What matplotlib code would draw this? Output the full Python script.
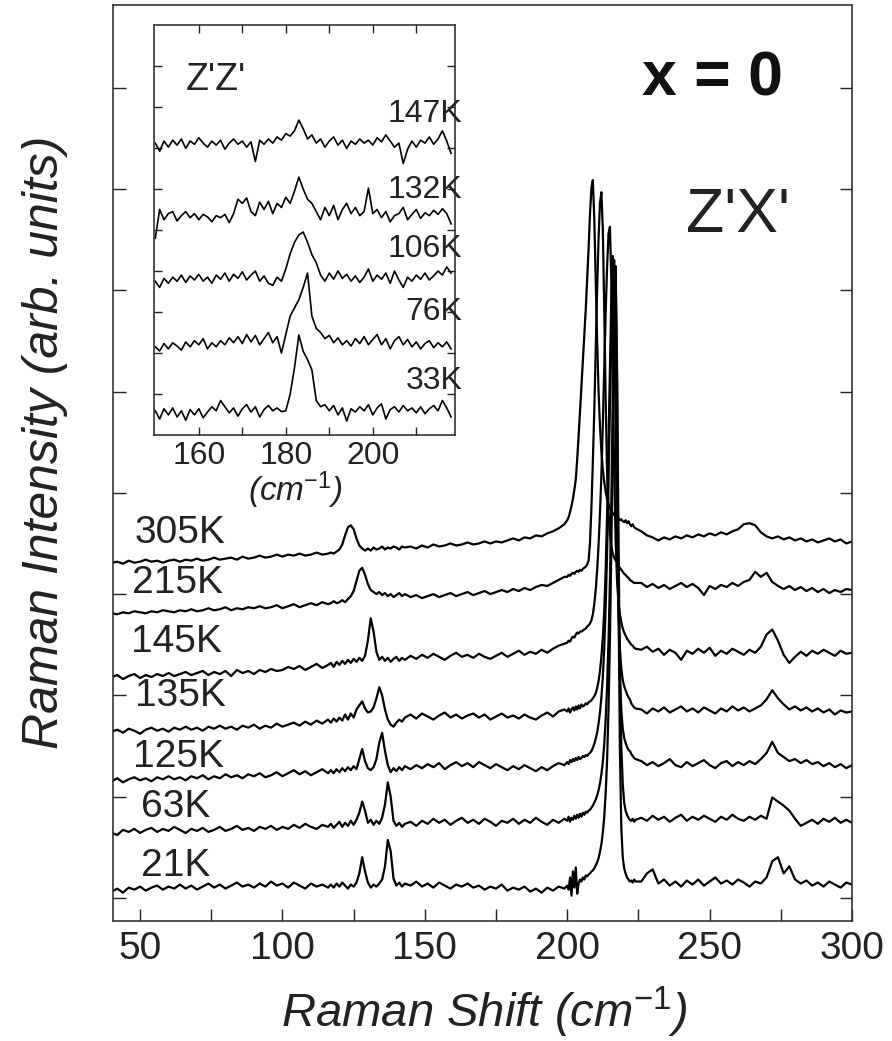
import numpy as np
import matplotlib
matplotlib.use('Agg')
from matplotlib import pyplot as plt
from matplotlib.ticker import MultipleLocator, FixedLocator

plt.rcParams['font.family'] = ['Liberation Sans', 'DejaVu Sans']
plt.rcParams['mathtext.fontset'] = 'custom'
plt.rcParams['mathtext.rm'] = 'Liberation Sans'
plt.rcParams['mathtext.it'] = 'Liberation Sans:italic'

# Raman shift sample positions (cm-1), finer around the phonon peaks
shift = np.concatenate([np.arange(40, 117, 2), np.arange(117, 144, 1),
                        np.arange(145, 200, 2), np.arange(200, 224.5, 0.5),
                        np.arange(226, 301, 2)])

# z'x' spectra, intensity above each curve's offset (arb. units)
zx_21K = [0.00, 0.03, -0.01, 0.04, 0.02, 0.05, 0.01, 0.04, 0.06, 0.02, 0.05, 0.03, 0.07, 0.03, 0.06, 0.02, 0.05, 0.08, 0.04, 0.07,
          0.03, 0.06, 0.09, 0.05, 0.07, 0.04, 0.08, 0.05, 0.10, 0.06, 0.08, 0.04, 0.09, 0.06, 0.03, 0.08, 0.05, 0.07, 0.04,
          0.07, 0.04, 0.08, 0.05, 0.09, 0.06, 0.03, 0.07, 0.05, 0.09, 0.18, 0.34, 0.20, 0.09, 0.04, 0.07, 0.05, 0.08, 0.12, 0.25,
          0.51, 0.40, 0.13, 0.06, 0.09, 0.05, 0.08,
          0.06, 0.10, 0.05, 0.08, 0.04, 0.09, 0.06, 0.03, 0.07, 0.05, 0.08, 0.04, 0.06, 0.02, 0.05, 0.03, 0.07, 0.01, 0.04, 0.02,
          0.05, 0.00, 0.03, -0.01, 0.04, 0.01, 0.05, 0.03,
          0.06, 0.02, 0.14, -0.04, 0.20, 0.04, 0.24, -0.02, 0.08, 0.12, 0.10, 0.14, 0.12, 0.16, 0.15, 0.17, 0.18, 0.20, 0.21, 0.23,
          0.26, 0.29, 0.33, 0.39, 0.47, 0.58, 0.74, 0.97, 1.30, 1.80, 2.50, 3.40, 4.50, 5.60, 6.14, 5.00, 2.90, 1.40, 0.62, 0.34,
          0.23, 0.18, 0.14, 0.12, 0.10, 0.11, 0.09, 0.12, 0.10,
          0.10, 0.18, 0.22, 0.08, 0.12, 0.06, 0.10, 0.05, 0.11, 0.07, 0.12, 0.06, 0.10, 0.14, 0.08, 0.11, 0.07, 0.12, 0.09, 0.05,
          0.10, 0.08, 0.14, 0.30, 0.34, 0.18, 0.25, 0.12, 0.08, 0.11, 0.06, 0.09, 0.05, 0.10, 0.07, 0.04, 0.09, 0.07]

zx_63K = [0.00, -0.02, 0.03, 0.01, 0.04, 0.00, 0.03, 0.05, 0.01, 0.04, 0.02, 0.06, 0.03, 0.00, 0.04, 0.02, 0.05, 0.01, 0.03, 0.06,
          0.02, 0.04, 0.07, 0.03, 0.05, 0.02, 0.06, 0.04, 0.07, 0.03, 0.06, 0.04, 0.08, 0.05, 0.09, 0.06, 0.04, 0.08, 0.06,
          0.09, 0.05, 0.08, 0.11, 0.06, 0.10, 0.07, 0.12, 0.08, 0.13, 0.20, 0.31, 0.22, 0.10, 0.13, 0.08, 0.12, 0.09, 0.15, 0.28,
          0.50, 0.36, 0.12, 0.07, 0.10, 0.06, 0.09,
          0.11, 0.07, 0.12, 0.09, 0.14, 0.10, 0.13, 0.08, 0.12, 0.15, 0.10, 0.13, 0.09, 0.14, 0.11, 0.07, 0.12, 0.10, 0.14, 0.09,
          0.13, 0.10, 0.15, 0.11, 0.08, 0.13, 0.10, 0.14,
          0.12, 0.16, 0.11, 0.15, 0.13, 0.17, 0.14, 0.18, 0.15, 0.19, 0.16, 0.20, 0.18, 0.21, 0.20, 0.22, 0.23, 0.25, 0.27, 0.30,
          0.33, 0.37, 0.42, 0.49, 0.58, 0.70, 0.88, 1.12, 1.45, 1.90, 2.50, 3.30, 4.30, 5.20, 5.60, 4.60, 2.90, 1.60, 0.85, 0.48,
          0.30, 0.22, 0.18, 0.15, 0.13, 0.12, 0.14, 0.11, 0.13,
          0.15, 0.12, 0.17, 0.13, 0.16, 0.11, 0.15, 0.18, 0.12, 0.16, 0.13, 0.17, 0.14, 0.11, 0.16, 0.13, 0.18, 0.14, 0.12, 0.16,
          0.13, 0.17, 0.14, 0.35, 0.31, 0.27, 0.22, 0.14, 0.07, 0.10, 0.13, 0.09, 0.14, 0.11, 0.15, 0.10, 0.13, 0.10]

zx_125K = [0.00, 0.03, -0.01, 0.02, 0.04, 0.01, 0.03, 0.00, 0.04, 0.02, 0.05, 0.02, 0.04, 0.01, 0.05, 0.03, 0.06, 0.02, 0.05, 0.03,
           0.07, 0.04, 0.06, 0.03, 0.07, 0.05, 0.08, 0.04, 0.06, 0.09, 0.05, 0.08, 0.11, 0.07, 0.10, 0.06, 0.09, 0.12, 0.08,
           0.11, 0.08, 0.12, 0.09, 0.13, 0.10, 0.14, 0.11, 0.15, 0.12, 0.22, 0.32, 0.20, 0.13, 0.11, 0.14, 0.22, 0.38, 0.48, 0.30,
           0.16, 0.09, 0.13, 0.10, 0.14, 0.11, 0.15,
           0.12, 0.16, 0.13, 0.17, 0.14, 0.18, 0.12, 0.16, 0.19, 0.15, 0.18, 0.14, 0.19, 0.16, 0.13, 0.17, 0.14, 0.11, 0.15, 0.12,
           0.16, 0.13, 0.10, 0.14, 0.11, 0.15, 0.18, 0.16,
           0.19, 0.17, 0.21, 0.19, 0.22, 0.20, 0.23, 0.21, 0.24, 0.22, 0.23, 0.25, 0.24, 0.26, 0.25, 0.27, 0.28, 0.30, 0.33, 0.37,
           0.42, 0.48, 0.57, 0.68, 0.83, 1.03, 1.32, 1.72, 2.25, 2.95, 3.75, 4.50, 5.00, 5.15, 4.30, 2.90, 1.75, 1.05, 0.70, 0.52,
           0.43, 0.38, 0.34, 0.31, 0.30, 0.27, 0.25, 0.23, 0.22,
           0.20, 0.16, 0.19, 0.15, 0.18, 0.22, 0.16, 0.14, 0.19, 0.15, 0.18, 0.21, 0.16, 0.13, 0.18, 0.20, 0.15, 0.19, 0.16, 0.20,
           0.17, 0.22, 0.28, 0.39, 0.28, 0.24, 0.20, 0.22, 0.18, 0.21, 0.17, 0.19, 0.15, 0.18, 0.14, 0.17, 0.13, 0.16]

zx_135K = [0.00, 0.02, -0.01, 0.03, 0.01, -0.02, 0.02, 0.04, 0.01, 0.03, 0.00, 0.04, 0.02, 0.05, 0.02, 0.04, 0.01, 0.05, 0.03, 0.06,
           0.03, 0.05, 0.02, 0.06, 0.04, 0.07, 0.03, 0.06, 0.04, 0.08, 0.05, 0.07, 0.09, 0.06, 0.10, 0.07, 0.11, 0.08, 0.12,
           0.09, 0.13, 0.10, 0.14, 0.11, 0.17, 0.12, 0.18, 0.14, 0.22, 0.26, 0.30, 0.23, 0.19, 0.20, 0.24, 0.33, 0.44, 0.36, 0.22,
           0.12, 0.07, 0.05, 0.09, 0.12, 0.10, 0.14,
           0.17, 0.13, 0.18, 0.15, 0.12, 0.16, 0.19, 0.14, 0.17, 0.13, 0.16, 0.18, 0.14, 0.17, 0.12, 0.15, 0.18, 0.14, 0.16, 0.13,
           0.17, 0.14, 0.12, 0.16, 0.19, 0.15, 0.20, 0.22,
           0.20, 0.23, 0.19, 0.22, 0.24, 0.21, 0.25, 0.22, 0.26, 0.23, 0.27, 0.25, 0.26, 0.28, 0.27, 0.29, 0.30, 0.31, 0.33, 0.35,
           0.38, 0.43, 0.50, 0.60, 0.74, 0.93, 1.20, 1.60, 2.15, 2.85, 3.60, 4.30, 4.70, 4.20, 3.00, 1.90, 1.20, 0.82, 0.62, 0.51,
           0.45, 0.41, 0.37, 0.34, 0.32, 0.28, 0.26, 0.24, 0.23,
           0.22, 0.18, 0.23, 0.20, 0.24, 0.19, 0.22, 0.25, 0.20, 0.23, 0.19, 0.24, 0.21, 0.18, 0.23, 0.20, 0.25, 0.21, 0.24, 0.20,
           0.23, 0.26, 0.32, 0.41, 0.33, 0.27, 0.22, 0.25, 0.21, 0.24, 0.20, 0.23, 0.19, 0.22, 0.17, 0.21, 0.19, 0.20]

zx_145K = [0.00, 0.02, -0.02, 0.01, 0.03, -0.01, 0.02, 0.00, 0.03, 0.01, 0.04, 0.01, 0.03, 0.05, 0.02, 0.04, 0.06, 0.02, 0.05, 0.03,
           0.06, 0.01, 0.07, 0.04, 0.06, 0.03, 0.07, 0.05, 0.08, 0.06, 0.07, 0.10, 0.08, 0.11, 0.07, 0.10, 0.13, 0.09, 0.12,
           0.14, 0.10, 0.15, 0.12, 0.16, 0.13, 0.17, 0.14, 0.18, 0.15, 0.19, 0.16, 0.21, 0.36, 0.58, 0.45, 0.25, 0.17, 0.20, 0.16,
           0.19, 0.15, 0.18, 0.20, 0.16, 0.19, 0.17,
           0.21, 0.18, 0.22, 0.19, 0.23, 0.20, 0.17, 0.21, 0.24, 0.20, 0.22, 0.19, 0.23, 0.20, 0.18, 0.21, 0.24, 0.20, 0.23, 0.26,
           0.22, 0.25, 0.23, 0.27, 0.24, 0.28, 0.31, 0.33,
           0.34, 0.36, 0.35, 0.38, 0.40, 0.39, 0.42, 0.44, 0.43, 0.45, 0.45, 0.46, 0.47, 0.48, 0.50, 0.51, 0.53, 0.56, 0.62, 0.72,
           0.86, 1.05, 1.30, 1.62, 2.00, 2.50, 3.05, 3.60, 4.05, 4.38, 4.45, 3.90, 2.90, 2.00, 1.35, 0.95, 0.74, 0.62, 0.54, 0.48,
           0.44, 0.41, 0.38, 0.36, 0.34, 0.32, 0.31, 0.29, 0.28,
           0.27, 0.30, 0.25, 0.28, 0.22, 0.27, 0.24, 0.17, 0.26, 0.23, 0.28, 0.24, 0.29, 0.21, 0.26, 0.23, 0.28, 0.25, 0.22, 0.27,
           0.24, 0.30, 0.42, 0.47, 0.36, 0.22, 0.14, 0.20, 0.25, 0.21, 0.26, 0.23, 0.27, 0.24, 0.21, 0.26, 0.23, 0.24]

zx_215K = [0.00, -0.01, 0.01, 0.00, 0.02, 0.01, 0.00, 0.02, 0.01, 0.03, 0.02, 0.01, 0.03, 0.02, 0.04, 0.02, 0.03, 0.05, 0.03, 0.04,
           0.06, 0.03, 0.05, 0.04, 0.06, 0.05, 0.07, 0.05, 0.06, 0.08, 0.05, 0.07, 0.09, 0.06, 0.08, 0.10, 0.08, 0.11, 0.09,
           0.10, 0.12, 0.10, 0.11, 0.13, 0.11, 0.14, 0.17, 0.22, 0.32, 0.42, 0.45, 0.38, 0.29, 0.23, 0.21, 0.19, 0.21, 0.18, 0.20,
           0.17, 0.19, 0.16, 0.18, 0.20, 0.17, 0.19,
           0.16, 0.18, 0.15, 0.17, 0.19, 0.16, 0.18, 0.20, 0.17, 0.19, 0.21, 0.18, 0.20, 0.22, 0.19, 0.21, 0.23, 0.21, 0.24, 0.22,
           0.25, 0.23, 0.26, 0.28, 0.27, 0.30, 0.33, 0.36,
           0.36, 0.38, 0.37, 0.39, 0.40, 0.39, 0.41, 0.42, 0.41, 0.43, 0.42, 0.44, 0.45, 0.46, 0.48, 0.52, 0.70, 1.05, 1.50, 2.00,
           2.60, 3.20, 3.70, 4.05, 4.16, 3.80, 3.00, 2.10, 1.40, 1.00, 0.78, 0.66, 0.59, 0.55, 0.52, 0.50, 0.47, 0.45, 0.43, 0.41,
           0.39, 0.38, 0.36, 0.35, 0.33, 0.32, 0.31, 0.30, 0.30,
           0.30, 0.26, 0.29, 0.25, 0.28, 0.24, 0.27, 0.30, 0.26, 0.29, 0.25, 0.18, 0.27, 0.24, 0.28, 0.26, 0.30, 0.27, 0.31, 0.33,
           0.41, 0.36, 0.40, 0.31, 0.27, 0.24, 0.27, 0.23, 0.26, 0.22, 0.25, 0.21, 0.24, 0.20, 0.23, 0.21, 0.24, 0.23]

zx_305K = [0.00, 0.01, -0.01, 0.02, 0.00, 0.01, 0.03, 0.01, 0.02, 0.00, 0.02, 0.03, 0.01, 0.03, 0.02, 0.04, 0.02, 0.03, 0.05, 0.03,
           0.04, 0.05, 0.03, 0.06, 0.04, 0.05, 0.07, 0.05, 0.06, 0.08, 0.06, 0.08, 0.07, 0.09, 0.07, 0.08, 0.10, 0.08, 0.09,
           0.10, 0.09, 0.11, 0.13, 0.18, 0.27, 0.35, 0.37, 0.33, 0.24, 0.17, 0.14, 0.12, 0.14, 0.12, 0.15, 0.13, 0.14, 0.16, 0.13,
           0.15, 0.14, 0.16, 0.15, 0.13, 0.16, 0.15,
           0.16, 0.14, 0.17, 0.15, 0.18, 0.16, 0.17, 0.19, 0.17, 0.18, 0.20, 0.18, 0.19, 0.21, 0.19, 0.21, 0.20, 0.22, 0.24, 0.22,
           0.25, 0.24, 0.27, 0.26, 0.29, 0.31, 0.34, 0.38,
           0.42, 0.45, 0.50, 0.56, 0.63, 0.72, 0.82, 1.02, 1.25, 1.50, 1.75, 2.00, 2.25, 2.50, 2.80, 3.10, 3.45, 3.70, 3.78, 3.40,
           2.80, 2.20, 1.70, 1.35, 1.10, 0.92, 0.80, 0.70, 0.63, 0.58, 0.54, 0.51, 0.49, 0.47, 0.46, 0.45, 0.44, 0.42, 0.43, 0.41,
           0.40, 0.42, 0.39, 0.41, 0.38, 0.36, 0.38, 0.35, 0.34,
           0.31, 0.27, 0.25, 0.22, 0.25, 0.23, 0.26, 0.24, 0.27, 0.25, 0.28, 0.26, 0.29, 0.27, 0.30, 0.28, 0.31, 0.33, 0.38, 0.39,
           0.37, 0.30, 0.26, 0.24, 0.26, 0.23, 0.25, 0.22, 0.24, 0.21, 0.23, 0.20, 0.22, 0.24, 0.21, 0.23, 0.19, 0.21]

zx_labels = ['21K', '63K', '125K', '135K', '145K', '215K', '305K']
zx_offsets = [0.06, 0.64, 1.15, 1.64, 2.18, 2.81, 3.31]
zx_spectra = [zx_21K, zx_63K, zx_125K, zx_135K, zx_145K, zx_215K, zx_305K]

# inset: z'z' spectra
zz_shift = np.arange(150, 219, 1)
zz_33K = [0.05, -0.15, 0.10, -0.05, 0.12, -0.10, 0.05, -0.18, 0.08, -0.05, 0.10, -0.12, 0.02, 0.15, 0.05, 0.30, 0.15, 0.00, 0.12, -0.08,
          0.10, 0.20, 0.02, 0.15, -0.10, 0.08, 0.18, 0.05, 0.12, 0.03, 0.05, 0.45, 1.10, 1.90, 1.50, 1.30, 1.05, 0.30, 0.15, 0.20,
          0.05, 0.18, -0.05, 0.12, -0.20, 0.10, 0.02, 0.15, 0.05, 0.20, -0.05, 0.12, 0.22, -0.15, 0.08, 0.15, 0.02, 0.18, 0.05, 0.12,
          0.00, 0.15, -0.02, 0.10, 0.18, 0.05, 0.30, 0.12, -0.10]
zz_76K = [0.00, -0.10, 0.08, -0.05, 0.10, 0.02, -0.08, 0.12, 0.00, 0.15, 0.05, 0.20, -0.05, 0.10, 0.00, 0.15, 0.05, 0.22, 0.10, 0.25,
          0.08, 0.30, 0.12, 0.28, 0.05, 0.20, 0.35, 0.10, 0.25, -0.15, 0.30, 0.75, 0.95, 1.15, 1.45, 1.80, 0.75, 0.45, 0.35, 0.20,
          0.28, 0.10, 0.22, 0.05, 0.15, 0.02, 0.20, 0.08, 0.25, 0.05, 0.18, 0.30, 0.05, 0.20, -0.05, 0.15, 0.25, 0.05, 0.18, 0.00,
          0.12, -0.05, 0.08, 0.15, -0.02, 0.10, 0.00, 0.12, -0.05]
zz_106K = [0.05, -0.10, 0.12, 0.00, 0.15, 0.05, 0.20, 0.02, 0.18, 0.08, 0.22, 0.05, 0.15, 0.00, 0.20, 0.10, 0.25, 0.05, 0.22, 0.12,
           0.28, 0.08, 0.20, 0.30, 0.05, 0.18, 0.00, -0.05, 0.15, 0.05, 0.35, 0.72, 1.00, 1.18, 1.25, 1.00, 0.70, 0.50, 0.20, 0.05,
           0.25, 0.10, 0.30, 0.12, 0.22, 0.05, 0.18, 0.02, 0.15, 0.35, 0.05, 0.20, 0.10, 0.25, 0.00, 0.30, 0.08, -0.10, 0.15, 0.05,
           0.20, 0.10, 0.25, 0.08, 0.18, 0.30, 0.20, 0.40, 0.25]
zz_132K = [-0.50, 0.20, -0.05, 0.10, 0.15, -0.08, 0.05, 0.15, 0.00, 0.10, -0.05, 0.08, 0.02, -0.10, 0.05, 0.00, 0.08, -0.12, 0.10, 0.45,
           0.35, 0.48, 0.15, 0.05, 0.38, 0.20, 0.40, 0.10, 0.35, 0.25, 0.50, 0.35, 0.65, 0.99, 0.70, 0.45, 0.35, 0.15, -0.05, 0.25,
           0.05, 0.30, -0.05, 0.20, 0.35, 0.10, 0.25, 0.05, 0.15, 0.72, 0.10, 0.20, 0.00, 0.15, -0.10, 0.05, 0.10, 0.25, -0.05, 0.08,
           0.20, -0.02, 0.12, 0.05, 0.18, 0.08, 0.22, 0.10, -0.15]
zz_147K = [0.05, -0.15, 0.10, -0.05, 0.12, 0.00, 0.15, -0.08, 0.10, 0.02, 0.18, 0.05, -0.05, 0.10, 0.00, 0.12, -0.10, 0.05, 0.15, 0.02,
           0.10, -0.05, 0.08, -0.40, 0.12, 0.02, 0.15, 0.05, 0.20, 0.12, 0.28, 0.22, 0.35, 0.61, 0.40, 0.15, 0.25, 0.05, 0.15, -0.05,
           0.10, 0.20, 0.00, 0.12, -0.08, 0.10, 0.02, 0.15, 0.05, 0.12, 0.00, 0.18, 0.08, 0.25, 0.10, -0.05, 0.05, -0.45, -0.10, 0.10,
           -0.05, 0.12, 0.05, 0.20, 0.02, 0.15, 0.35, 0.10, -0.20]

zz_labels = ['33K', '76K', '106K', '132K', '147K']
zz_offsets = [0.54, 2.15, 3.70, 5.30, 7.07]
zz_spectra = [zz_33K, zz_76K, zz_106K, zz_132K, zz_147K]

W, H = 892, 1041
fig = plt.figure(figsize=(W / 100, H / 100), dpi=100)

ax = fig.add_axes([113 / W, (H - 921) / H, 739 / W, 916 / H])
for spec, off in zip(zx_spectra, zx_offsets):
    ax.plot(shift, np.array(spec) + off, color='black', lw=1.6)

ax.set_xlim(40.5, 300)
ax.set_ylim(-0.23, 8.82)
ax.xaxis.set_major_locator(MultipleLocator(50))
ax.xaxis.set_minor_locator(MultipleLocator(25))
ax.set_yticks(range(9))
ax.set_yticklabels([])
ax.tick_params(which='both', direction='in', length=9, width=1, right=True,
               labelsize=28, pad=7, colors='#222222')
for s in ax.spines.values():
    s.set_linewidth(1.2)
    s.set_color('#333333')

# temperature labels for the main spectra
label_pos = {'305K': (48.2, 3.60), '215K': (47.2, 3.11), '145K': (46.8, 2.53),
             '135K': (48.2, 1.99), '125K': (47.5, 1.39), '63K': (50.4, 0.90),
             '21K': (50.4, 0.31)}
for name, (lx, ly) in label_pos.items():
    ax.text(lx, ly, name, fontsize=28, ha='left', va='center', color='#222222')

fig.text(712 / W, 1 - 79 / H, 'x = 0', fontsize=45, fontweight='bold',
         ha='center', va='center', color='#111111')
fig.text(738 / W, 1 - 216 / H, "Z'X'", fontsize=45,
         ha='center', va='center', color='#222222')

fig.text(484 / W, 1 - 1012 / H, r'Raman Shift (cm$^{\mathit{-1}}$)', fontsize=34,
         style='italic', ha='center', va='center', color='#222222')
fig.text(45 / W, 1 - 442 / H, 'Raman Intensity (arb. units)', fontsize=36,
         style='italic', rotation=90, ha='center', va='center', color='#222222')

# inset
ins = fig.add_axes([154 / W, (H - 435) / H, 301 / W, 410 / H])
for spec, off in zip(zz_spectra, zz_offsets):
    ins.plot(zz_shift, np.array(spec) + off, color='black', lw=1.2)
ins.set_xlim(149.7, 218.9)
ins.set_ylim(0, 10)
ins.xaxis.set_major_locator(FixedLocator([160, 180, 200]))
ins.xaxis.set_minor_locator(FixedLocator([170, 190, 210]))
ins.set_yticks(range(1, 10))
ins.set_yticklabels([])
ins.tick_params(which='both', direction='in', length=6, width=1, top=True, right=True,
                labelsize=23, pad=4, colors='#222222')
for s in ins.spines.values():
    s.set_linewidth(1.2)
    s.set_color('#333333')

zz_label_y = [0.132, 0.300, 0.454, 0.598, 0.783]
for name, ly in zip(zz_labels, zz_label_y):
    ins.text(1.025, ly, name, transform=ins.transAxes, fontsize=23,
             ha='right', va='center', color='#222222')
ins.text(0.206, 0.866, "Z'Z'", transform=ins.transAxes, fontsize=27,
         ha='center', va='center', color='#222222')
fig.text(295 / W, 1 - 490 / H, r'(cm$^{\mathit{-1}}$)', fontsize=24,
         style='italic', ha='center', va='center', color='#222222')

fig.savefig('out.png', dpi=100)
